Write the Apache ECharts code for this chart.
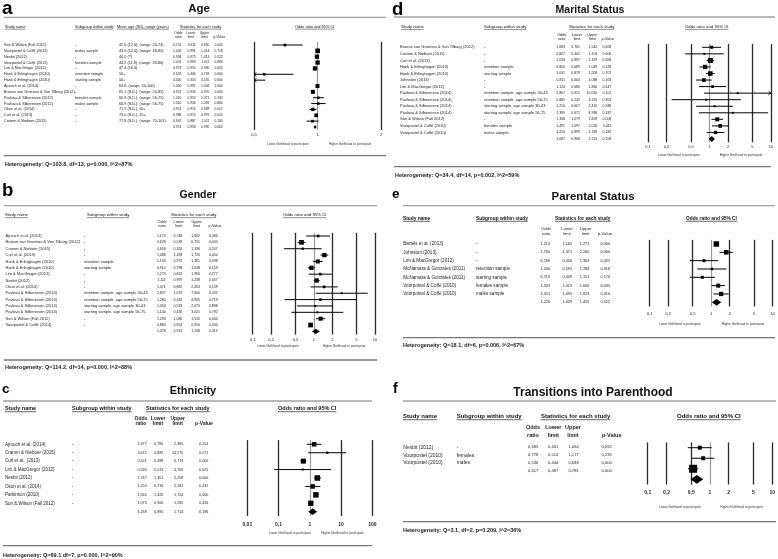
<!DOCTYPE html>
<html><head><meta charset="utf-8">
<script src="https://cdn.jsdelivr.net/npm/echarts@6/dist/echarts.min.js"></script>
<style>html,body{margin:0;padding:0;background:#fff}#c{width:778px;height:559px}</style>
</head><body><div id="c"></div><script>
const FONT = '"Liberation Sans", Arial, sans-serif';

// ================= DATA =================
// a) Age
const ageStudy = ['Son & Wilson (Fall 2012)','Voorpostel & Coffé (2012)','Nesbit (2012)','Voorpostel & Coffé (2012)','Lim & MacGregor (2012)','Hank & Erlinghagen (2010)','Hank & Erlinghagen (2010)','Ajrouch et al. (2014)','Broese van Groenou & Van Tilburg (2012)','Pavlova & Silbereisen (2012)','Pavlova & Silbereisen (2012)','Okun et al. (2014)','Curl et al. (2013)','Cramm & Nieboer (2015)'];
const ageSubgroup = ['-','males sample','-','females sample','-','retention sample','starting sample','-','-','females sample','males sample','-','-','-'];
const ageMeanAge = ['42.0 (12.0), (range: 20-74)','43.6 (12.0), (range: 18-80)','44.0 (?)','44.2 (11.8), (range: 18-80)','47.4 (16.0)','50+','50+','63.6, (range: 50-100)','65.1 (S.D.), (range: 55-85)','60.9 (S.D.), (range: 56-75)','60.9 (S.D.), (range: 56-75)','71.9 (S.D.), 65+','73.0 (S.D.), 65+','77.8 (S.D.), (range: 70-101)'];
const ageOR    = [0.701,1.002,0.994,1.001,0.973,0.559,0.440,1.000,0.951,1.010,1.010,0.951,0.986,0.947];
const ageLower = [0.611,0.991,0.975,0.990,0.955,0.406,0.343,0.991,0.933,0.952,0.934,0.916,0.974,0.887];
const ageUpper = [0.850,1.014,1.013,1.011,0.990,0.769,0.565,1.009,0.970,1.071,1.092,0.989,0.997,1.011];
const ageP     = [0.000,0.718,0.522,0.894,0.002,0.000,0.000,1.000,0.000,0.740,0.804,0.012,0.014,0.100];
const ageWeight = [20,61,51,51,51,17,17,44,44,17,17,30,38,20];
const ageSummary = [0.974,0.958,0.990,0.002];
const ageTicks = [0.5,1,2];
const ageHet = 'Heterogeneity: Q=103.8, df=13, p=0.000, I^2=87%';

// d) Marital Status
const maritalStudy = ['Broese van Groenou & Van Tilburg (2012)','Cramm & Nieboer (2015)','Curl et al. (2013)','Hank & Erlinghagen (2010)','Hank & Erlinghagen (2010)','Johnston (2013)','Lim & MacGregor (2012)','Pavlova & Silbereisen (2014)','Pavlova & Silbereisen (2014)','Pavlova & Silbereisen (2014)','Pavlova & Silbereisen (2014)','Son & Wilson (Fall 2012)','Voorpostel & Coffé (2010)','Voorpostel & Coffé (2010)'];
const maritalSubgroup = ['-','-','-','retention sample','starting sample','-','-','retention sample, age sample 30-43','retention sample, age sample 56-75','starting sample, age sample 30-43','starting sample, age sample 56-75','-','females sample','males sample'];
const maritalOR    = [1.083,0.827,1.033,0.850,1.031,0.811,1.124,2.867,0.885,1.210,2.390,1.338,1.491,1.254];
const maritalLower = [0.761,0.402,0.897,0.689,0.879,0.604,0.680,0.815,0.242,0.607,0.671,1.079,1.097,0.899];
const maritalUpper = [1.542,1.703,1.187,1.049,1.208,1.088,1.860,10.020,3.231,2.410,8.996,1.659,2.026,1.749];
const maritalP     = [0.658,0.606,0.658,0.129,0.707,0.163,0.647,0.101,0.853,0.588,0.187,0.008,0.011,0.182];
const maritalWeight = [25,11,69,51,56,38,20,11,11,11,11,44,38,30];
const maritalSummary = [1.087,0.968,1.221,0.158];
const maritalTicks = [0.1,0.2,0.5,1,2,5,10];
const maritalHet = 'Heterogeneity: Q=34.4, df=14, p=0.002, I^2=59%';

// b) Gender
const genderStudy = ['Ajrouch et al. (2014)','Broese van Groenou & Van Tilburg (2012)','Cramm & Nieboer (2015)','Curl et al. (2013)','Hank & Erlinghagen (2010)','Hank & Erlinghagen (2010)','Lim & MacGregor (2012)','Nesbit (2012)','Okun et al. (2014)','Pavlova & Silbereisen (2014)','Pavlova & Silbereisen (2014)','Pavlova & Silbereisen (2014)','Pavlova & Silbereisen (2014)','Son & Wilson (Fall 2012)','Voorpostel & Coffé (2014)'];
const genderSubgroup = ['-','-','-','-','retention sample','starting sample','-','-','-','retention sample, age sample 30-43','retention sample, age sample 56-75','starting sample, age sample 30-43','starting sample, age sample 56-75','-','-'];
const genderOR    = [1.174,0.628,0.658,1.488,1.163,0.910,1.273,1.111,1.471,2.857,1.280,1.050,1.140,1.290,0.884];
const genderLower = [0.748,0.539,0.324,1.283,0.972,0.798,0.824,0.997,0.882,1.074,0.332,0.533,0.430,1.086,0.854];
const genderUpper = [1.842,0.731,1.336,1.726,1.391,1.038,1.966,1.238,2.453,7.600,4.945,2.070,3.021,1.532,0.916];
const genderP     = [0.485,0.000,0.247,0.000,0.098,0.159,0.277,0.057,0.139,0.035,0.719,0.888,0.792,0.004,0.000];
const genderWeight = [20,61,15,51,44,51,20,51,20,11,17,11,11,44,61];
const genderSummary = [1.078,0.931,1.248,0.315];
const genderTicks = [0.1,0.2,0.5,1,2,5,10];
const genderHet = 'Heterogeneity: Q=114.2, df=14, p=0.000, I^2=88%';

// e) Parental Status
const parentalStudy = ['Bartels et al. (2013)','Johnston (2013)','Lim & MacGregor (2012)','McNamara & Gonzales (2011)','McNamara & Gonzales (2011)','Voorpostel & Coffé (2010)','Voorpostel & Coffé (2010)'];
const parentalSubgroup = ['-','-','-','retention sample','starting sample','females sample','males sample'];
const parentalOR    = [1.215,1.760,0.766,1.030,0.719,1.303,1.451];
const parentalLower = [1.162,1.371,0.450,0.595,0.449,1.019,1.095];
const parentalUpper = [1.271,2.260,1.303,1.784,1.151,1.666,1.923];
const parentalP     = [0.000,0.000,0.325,0.916,0.170,0.035,0.010];
const parentalWeight = [84,56,25,17,25,44,51];
const parentalSummary = [1.226,1.029,1.459,0.022];
const parentalTicks = [0.1,0.2,0.5,1,2,5,10];
const parentalHet = 'Heterogeneity: Q=18.1, df=6, p=0.006, I^2=67%';

// c) Ethnicity
const ethnicityStudy = ['Ajrouch et al. (2014)','Cramm & Nieboer (2015)','Curl et al.. (2013)','Lim & MacGregor (2012)','Nesbit (2012)','Okun et al. (2014)','Parkinson (2010)','Son & Wilson (Fall 2012)'];
const ethnicitySubgroup = ['-','-','-','-','-','-','-','-'];
const ethnicityOR    = [1.377,3.612,0.621,0.595,1.747,1.250,1.565,1.075];
const ethnicityLower = [0.795,0.895,0.498,0.074,1.351,0.716,1.420,0.900];
const ethnicityUpper = [2.385,14.575,0.774,4.765,2.258,2.181,1.724,1.285];
const ethnicityP     = [0.254,0.071,0.000,0.625,0.000,0.432,0.000,0.426];
const ethnicityWeight = [56,15,69,11,84,56,84,78];
const ethnicitySummary = [1.239,0.895,1.714,0.196];
const ethnicityTicks = [0.01,0.1,1,10,100];
const ethnicityHet = 'Heterogeneity: Q=69.1 df=7, p=0.000, I^2=90%';

// f) Transitions into Parenthood
const transStudy = ['Nesbit (2012)','Voorpostel (2010)','Voorpostel (2010)'];
const transSubgroup = ['-','females','males'];
const transOR    = [0.685,0.778,0.536];
const transLower = [0.441,0.514,0.444];
const transUpper = [1.064,1.177,0.648];
const transP     = [0.092,0.235,0.000];
const transWeight = [44,44,178];
const transSummary = [0.617,0.487,0.781,0.000];
const transTicks = [0.1,0.2,0.5,1,2,5,10];
const transHet = 'Heterogeneity: Q=3.1, df=2, p=0.209, I^2=36%';

const legendLow = 'Lower likelihood to participate';
const legendHigh = 'Higher likelihood to participate';
const subHeads = [['Odds','ratio'],['Lower','limit'],['Upper','limit'],['','p-Value']];

// ================= LAYOUT / STYLE =================
const panels = [
 {letter:'a', title:'Age', study:ageStudy, sub:ageSubgroup, extra:ageMeanAge, or:ageOR, lo:ageLower, up:ageUpper, p:ageP, w:ageWeight, sum:ageSummary, ticks:ageTicks, het:ageHet, dec:'.',
  L:{x:2,y:8.3,s:19}, T:{x:199,y:8.5,s:11.5}, top:[4,386,17.3], bot:[4,386,155.7], H:{x:5,y:164.7},
  hy:26.7, hs:3.9, hb:false, heads:[[5,'Study name'],[75,'Subgroup within study'],[117,'Mean age (SD), range (years)'],[180,'Statistics for each study'],[295,'Odds ratio and 95% CI']],
  sy:[33.3,37.3], ss:3.5, sb:false, sx:[178.3,190.8,204.5,219.2],
  tb:{nameX:4, subX:75, extraX:119, x0:170, right:[181.3,195.7,209.3,222.7], y0:45, y1:127, ns:3.8, ms:3.3},
  pl:{left:254, right:381, y0:45, y1:127, min:0.5, max:2, ls:4, ly:135.3, lb:false, dia:0.36},
  lg:{y:143.7, lo:288, hi:350, s:3.2}},
 {letter:'d', title:'Marital Status', study:maritalStudy, sub:maritalSubgroup, or:maritalOR, lo:maritalLower, up:maritalUpper, p:maritalP, w:maritalWeight, sum:maritalSummary, ticks:maritalTicks, het:maritalHet, dec:'.',
  L:{x:392,y:9.6,s:18.5}, T:{x:590,y:10,s:10.5}, top:[394,775,17], bot:[394,771,166.7], H:{x:395,y:175},
  hy:26.7, hs:4.3, hb:false, heads:[[401,'Study name'],[484,'Subgroup within study'],[569,'Statistics for each study'],[685,'Odds ratio and 95% CI']],
  sy:[35.3,39.3], ss:3.8, sb:false, sx:[561.7,577,592.5,608],
  tb:{nameX:400, subX:484, x0:550, right:[565,580,597.3,611.3], y0:47.3, y1:139, ns:4, ms:3.5},
  pl:{left:648, right:771, y0:47.3, y1:139, min:0.1, max:10, ls:4, ly:147.7, lb:false, dia:0.45},
  lg:{y:155, lo:679, hi:741, s:3.2}},
 {letter:'b', title:'Gender', study:genderStudy, sub:genderSubgroup, or:genderOR, lo:genderLower, up:genderUpper, p:genderP, w:genderWeight, sum:genderSummary, ticks:genderTicks, het:genderHet, dec:',',
  L:{x:2,y:190.6,s:18.5}, T:{x:198,y:195,s:10.5}, top:[4,377,205.7], bot:[4,377,360], H:{x:5,y:367.7},
  hy:215, hs:4.3, hb:false, heads:[[5,'Study name'],[87,'Subgroup within study'],[171,'Statistics for each study'],[283,'Odds ratio and 95% CI']],
  sy:[221.7,225.7], ss:3.8, sb:false, sx:[162,178.7,196.7,215],
  tb:{nameX:5.5, subX:84, x0:150, right:[165.7,182.3,200,217.7], y0:236, y1:331.4, ns:4, ms:3.5},
  pl:{left:252.7, right:375, y0:236, y1:331.4, min:0.1, max:10, ls:4, ly:340.7, lb:false, dia:0.42},
  lg:{y:345.7, lo:278, hi:344, s:3.2}},
 {letter:'e', title:'Parental Status', study:parentalStudy, sub:parentalSubgroup, or:parentalOR, lo:parentalLower, up:parentalUpper, p:parentalP, w:parentalWeight, sum:parentalSummary, ticks:parentalTicks, het:parentalHet, dec:',',
  L:{x:392,y:194.1,s:13.5}, T:{x:593,y:197.3,s:11.4}, top:[403,775,205.7], bot:[403,775,337.7], H:{x:403,y:345.7},
  hy:218.3, hs:4.8, hb:true, heads:[[403,'Study name'],[476,'Subgroup within study'],[555,'Statistics for each study'],[686,'Odds ratio and 95% CI']],
  sy:[229.3,234], ss:4.3, sb:false, sx:[546,567,585.7,605],
  tb:{nameX:403.3, subX:476, x0:535, right:[550,572,589.3,610], y0:244, y1:302.3, ns:4.6, ms:3.8},
  pl:{left:649.7, right:773.7, y0:244, y1:302.3, min:0.1, max:10, ls:4.3, ly:314, lb:false, dia:0.4},
  lg:{y:324.3, lo:680, hi:743, s:3.2}},
 {letter:'c', title:'Ethnicity', study:ethnicityStudy, sub:ethnicitySubgroup, or:ethnicityOR, lo:ethnicityLower, up:ethnicityUpper, p:ethnicityP, w:ethnicityWeight, sum:ethnicitySummary, ticks:ethnicityTicks, het:ethnicityHet, dec:',',
  L:{x:2,y:389.1,s:13.5}, T:{x:193,y:390.7,s:11}, top:[3,372,401], bot:[3,372,545.7], H:{x:3,y:555.5},
  hy:408.3, hs:5.5, hb:true, heads:[[5,'Study name'],[72,'Subgroup within study'],[146,'Statistics for each study'],[278,'Odds ratio and 95% CI']],
  sy:[418.3,424], ss:5, sb:true, sx:[141,158,177.7,204],
  tb:{nameX:5, subX:71.7, x0:128, right:[146.7,163.3,183.3,208.3], y0:444.3, y1:511.7, ns:4.5, ms:3.7},
  pl:{left:247.3, right:372.3, y0:444.3, y1:511.7, min:0.01, max:100, ls:5, ly:525, lb:true, dia:0.4},
  lg:{y:533, lo:290, hi:342.5, s:3.2}},
 {letter:'f', title:'Transitions into Parenthood', study:transStudy, sub:transSubgroup, or:transOR, lo:transLower, up:transUpper, p:transP, w:transWeight, sum:transSummary, ticks:transTicks, het:transHet, dec:',',
  L:{x:393,y:388.8,s:14}, T:{x:593,y:392.7,s:12}, top:[403,776,401], bot:[403,776,521.7], H:{x:403,y:530},
  hy:416, hs:6, hb:true, heads:[[403,'Study name'],[456.7,'Subgroup within study'],[541,'Statistics for each study'],[677,'Odds ratio and 95% CI']],
  sy:[427.7,435.7], ss:5.5, sb:true, sx:[533,553.3,573,611.7],
  tb:{nameX:403.3, subX:456.7, x0:520, right:[538.3,558.3,578.7,611.7], y0:447.3, y1:471, ns:5, ms:4.1},
  pl:{left:647.7, right:773.3, y0:447.7, y1:479.3, min:0.1, max:10, ls:5, ly:493.3, lb:true, dia:0.42},
  lg:{y:506.7, lo:680, hi:741.7, s:3.2}}
];

// ================= BUILD =================
const ctx = document.createElement('canvas').getContext('2d');
function textW(t, size, bold){ ctx.font = (bold?'bold ':'') + size + 'px ' + FONT; return ctx.measureText(t).width; }
const grid=[], xAxis=[], yAxis=[], series=[], graphic=[];
function addText(x,y,t,size,o){ o=o||{}; graphic.push({type:'text', x:x, y:y, silent:true, z:10,
  style:{text:t, fontSize:size, fontFamily:FONT, fontWeight:o.bold?'bold':'normal', fill:o.color||'#222', textAlign:o.align||'left', textVerticalAlign:o.va||'middle'}}); }
function addLine(x1,y1,x2,y2,color,w){ graphic.push({type:'line', silent:true, z:10, shape:{x1:x1,y1:y1,x2:x2,y2:y2}, style:{stroke:color, lineWidth:w}}); }
const fmtTick = v => String(parseFloat(Number(v).toPrecision(6))).replace('.', ',');

function makeRender(P){
  const L = P.pl;
  return function(params, api){
    const idx = api.value(0), or = api.value(1), lo = api.value(2), up = api.value(3), w = api.value(4), isSum = api.value(5);
    const cl = v => Math.min(L.max, Math.max(L.min, v));
    const y = api.coord([1, idx])[1];
    const band = Math.abs(api.coord([1, 1])[1] - api.coord([1, 0])[1]);
    const xl = api.coord([cl(lo), idx])[0], xu = api.coord([cl(up), idx])[0], xo = api.coord([cl(or), idx])[0];
    const ch = [];
    if (isSum) {
      const h = band * L.dia;
      ch.push({type:'polygon', shape:{points:[[xl,y],[xo,y-h],[xu,y],[xo,y+h]]}, style:{fill:'#000'}});
      return {type:'group', children:ch};
    }
    ch.push({type:'line', shape:{x1:xl,y1:y,x2:xu,y2:y}, style:{stroke:'#000', lineWidth:1}});
    const a = Math.min(1.8, band*0.3);
    if (lo < L.min) ch.push({type:'polyline', shape:{points:[[xl+a*1.4,y-a],[xl,y],[xl+a*1.4,y+a]]}, style:{stroke:'#000', lineWidth:0.8, fill:'none'}});
    if (up > L.max) ch.push({type:'polyline', shape:{points:[[xu-a*1.4,y-a],[xu,y],[xu-a*1.4,y+a]]}, style:{stroke:'#000', lineWidth:0.8, fill:'none'}});
    if (or >= L.min && or <= L.max) {
      const s = 0.6*Math.sqrt(w);
      ch.push({type:'rect', shape:{x:xo-s/2, y:y-s/2, width:s, height:s}, style:{fill:'#000'}});
    }
    return {type:'group', children:ch};
  };
}

panels.forEach(P => {
  const n = P.study.length + 1;
  const tb = P.tb, pl = P.pl;
  const f3 = v => v.toFixed(3).replace('.', P.dec);

  // ---- table as rich axis labels ----
  const tsp = (tb.y1 - tb.y0) / (n - 1);
  const gi = grid.length;
  grid.push({left: tb.right[3] + 2, top: tb.y0 - tsp/2, width: 2, height: tsp*n});
  xAxis.push({type:'value', gridIndex:gi, show:false});
  const base = {fontFamily:FONT, color:'#222', fontSize:tb.ns};
  const num = {fontFamily:FONT, color:'#222', fontSize:tb.ms, align:'right'};
  const rich = {
    n: Object.assign({}, base, {width: tb.subX - tb.nameX, align:'left'}),
    s: Object.assign({}, base, {width: (tb.extraX || tb.x0) - tb.subX, align:'left'}),
    m: Object.assign({}, base, {width: tb.x0 - (tb.extraX || tb.x0), align:'left'}),
    o: Object.assign({}, num, {width: tb.right[0] - tb.x0}),
    l: Object.assign({}, num, {width: tb.right[1] - tb.right[0]}),
    u: Object.assign({}, num, {width: tb.right[2] - tb.right[1]}),
    p: Object.assign({}, num, {width: tb.right[3] - tb.right[2]})
  };
  const rowText = i => {
    const isStudy = i < P.study.length;
    const vals = isStudy ? [P.or[i], P.lo[i], P.up[i], P.p[i]] : P.sum;
    let s = '{n|' + (isStudy ? P.study[i] : ' ') + '}{s|' + (isStudy ? P.sub[i] : ' ') + '}';
    if (P.extra) s += '{m|' + (isStudy ? P.extra[i] : ' ') + '}';
    s += '{o|' + f3(vals[0]) + '}{l|' + f3(vals[1]) + '}{u|' + f3(vals[2]) + '}{p|' + f3(vals[3]) + '}';
    return s;
  };
  yAxis.push({type:'category', gridIndex:gi, inverse:true, data: P.study.concat(['summary']),
    axisLine:{show:false}, axisTick:{show:false}, splitLine:{show:false},
    axisLabel:{interval:0, margin:2, fontSize:tb.ns, fontFamily:FONT, formatter:(v,i)=>rowText(i), rich:rich}});

  // ---- forest plot ----
  const psp = (pl.y1 - pl.y0) / (n - 1);
  const gp = grid.length;
  const gBottom = pl.y0 - psp/2 + psp*n;
  grid.push({left:pl.left, top:pl.y0 - psp/2, width:pl.right - pl.left, height:psp*n});
  xAxis.push({type:'log', logBase:10, gridIndex:gp, min:pl.min, max:pl.max,
    axisLine:{show:false}, axisTick:{show:false}, splitLine:{show:false},
    axisLabel:{customValues:P.ticks, formatter:v=>fmtTick(v), fontSize:pl.ls, fontFamily:FONT, color:'#222', fontWeight:pl.lb?'bold':'normal', margin: pl.ly - gBottom - pl.ls*0.6, showMinLabel:true, showMaxLabel:true}});
  yAxis.push({type:'category', gridIndex:gp, inverse:true, show:false, data: Array.from({length:n}, (_, i) => i)});
  const items = P.study.map((_, i) => [i, P.or[i], P.lo[i], P.up[i], P.w[i], 0]);
  items.push([n-1, P.sum[0], P.sum[1], P.sum[2], 0, 1]);
  series.push({type:'scatter', xAxisIndex:gp, yAxisIndex:gp, z:1, silent:true, symbolSize:0, itemStyle:{opacity:0},
    data: items.map(d => [d[1], d[0]]),
    markLine:{silent:true, symbol:['none','none'], animation:false, label:{show:false},
      data: P.ticks.map(v => ({xAxis:v, lineStyle:{type:'solid', color: v===1 ? '#9a9a9a' : '#2a2a2a', width: v===1 ? 1.2 : 1.3}}))}});
  series.push({type:'custom', xAxisIndex:gp, yAxisIndex:gp, z:20, silent:true, renderItem:makeRender(P),
    encode:{x:[1,2,3], y:0}, data:items});

  // ---- decorations & headings ----
  addText(P.L.x, P.L.y, P.letter, P.L.s, {bold:true, color:'#000'});
  addText(P.T.x, P.T.y, P.title, P.T.s, {bold:true, align:'center', color:'#111'});
  addLine(P.top[0], P.top[2], P.top[1], P.top[2], '#a0a0a0', 1.3);
  addLine(P.bot[0], P.bot[2], P.bot[1], P.bot[2], '#777', 1.3);
  addText(P.H.x, P.H.y, P.het, 5.5, {bold:true, color:'#222'});
  P.heads.forEach(h => {
    addText(h[0], P.hy, h[1], P.hs, {bold:P.hb, color:'#111'});
    const w = textW(h[1], P.hs, P.hb);
    addLine(h[0], P.hy + P.hs*0.62, h[0] + w, P.hy + P.hs*0.62, '#222', P.hb ? 0.7 : 0.5);
  });
  subHeads.forEach((sh, j) => {
    if (sh[0]) addText(P.sx[j], P.sy[0], sh[0], P.ss, {bold:P.sb, align:'center'});
    addText(P.sx[j], P.sy[1], sh[1], P.ss, {bold:P.sb, align:'center'});
  });
  addText(P.lg.lo, P.lg.y, legendLow, P.lg.s, {align:'center', color:'#333'});
  addText(P.lg.hi, P.lg.y, legendHigh, P.lg.s, {align:'center', color:'#333'});
});

const chart = echarts.init(document.getElementById('c'));
chart.setOption({animation:false, backgroundColor:'#fff', grid:grid, xAxis:xAxis, yAxis:yAxis, series:series, graphic:graphic});
</script></body></html>
